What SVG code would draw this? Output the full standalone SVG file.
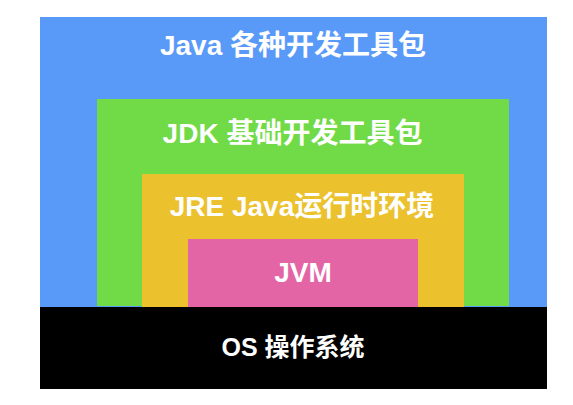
<svg xmlns="http://www.w3.org/2000/svg" width="573" height="405" viewBox="0 0 573 405">
  <style>
    text { font-family: "Liberation Sans", "Noto Sans CJK SC", sans-serif; font-weight: bold; fill: #ffffff; text-anchor: middle; }
    .t28 { font-size: 28px; }
    .t25 { font-size: 25px; }
  </style>
  <rect x="0" y="0" width="573" height="405" fill="#ffffff"/>
  <g id="java-tools">
    <rect x="40" y="17" width="507" height="290" fill="#5999F8"/>
    <text class="t28" x="293" y="55">Java 各种开发工具包</text>
  </g>
  <g id="jdk">
    <rect x="97" y="99" width="412" height="207" fill="#71DA47"/>
    <text class="t28" x="292.5" y="143">JDK 基础开发工具包</text>
  </g>
  <g id="jre">
    <rect x="142" y="174" width="322" height="133" fill="#EBC12D"/>
    <text class="t28" x="302" y="216">JRE Java运行时环境</text>
  </g>
  <g id="jvm">
    <rect x="188" y="239" width="230" height="68" fill="#E365A5"/>
    <text class="t28" x="303" y="282">JVM</text>
  </g>
  <g id="os">
    <rect x="40" y="307" width="507" height="82" fill="#000000"/>
    <text class="t25" x="293" y="356">OS 操作系统</text>
  </g>
  <g id="connectors"/>
</svg>
